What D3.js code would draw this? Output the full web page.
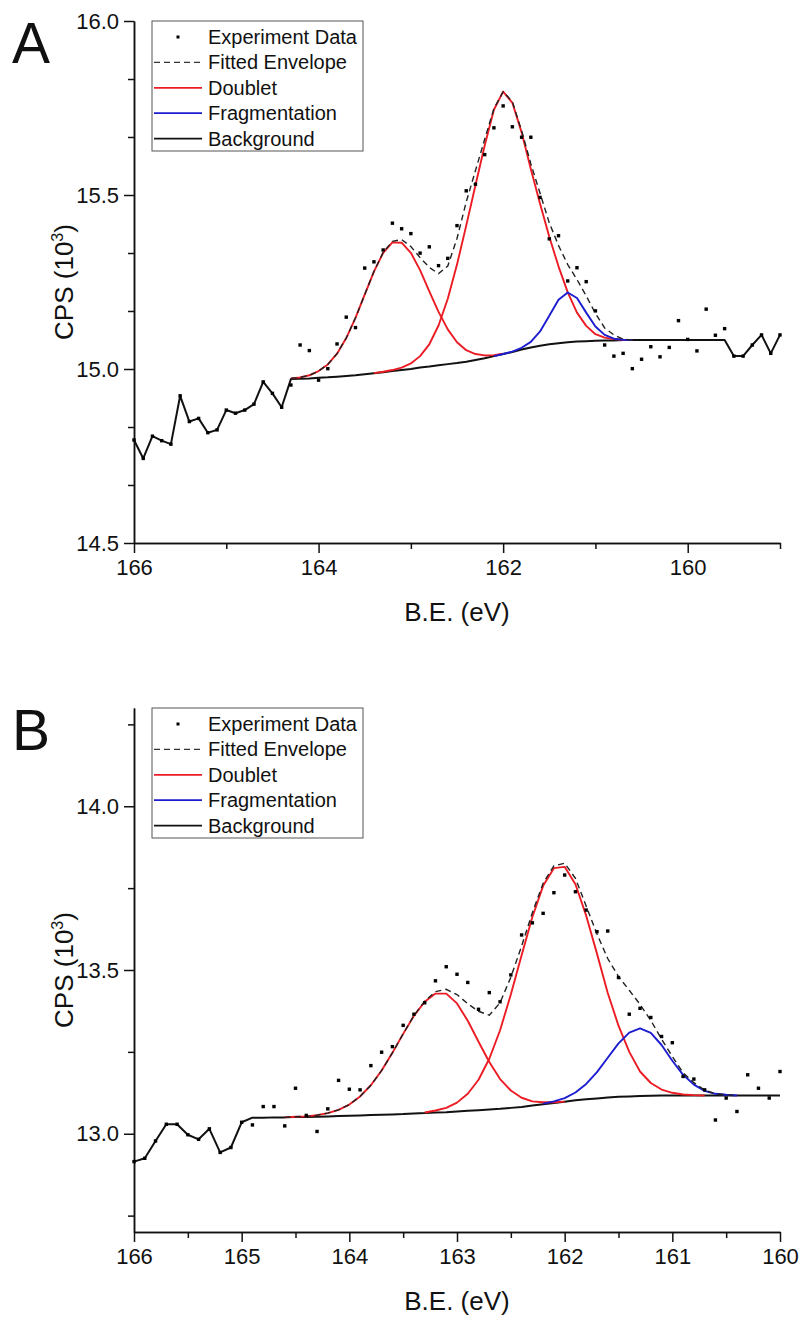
<!DOCTYPE html>
<html>
<head>
<meta charset="utf-8">
<script src="https://cdn.jsdelivr.net/npm/d3@7"></script>
<style>
  body { margin: 0; background: #fff; }
  text { font-family: "Liberation Sans", Arial, sans-serif; fill: #111; }
</style>
</head>
<body>
<svg id="chart" width="804" height="1317"></svg>
<script>
// ---------- data: [binding energy (eV), CPS (10^3)] ----------
// panel A
var expA = [[166.0,14.796],[165.9,14.743],[165.8,14.807],[165.7,14.794],[165.6,14.784],[165.5,14.923],[165.4,14.849],[165.3,14.858],[165.2,14.817],[165.1,14.825],[165.0,14.882],[164.9,14.873],[164.8,14.882],[164.7,14.899],[164.6,14.963],[164.5,14.930],[164.4,14.890],[164.3,14.954],[164.2,15.069],[164.1,15.053],[164.0,14.968],[163.9,15.001],[163.8,15.072],[163.7,15.149],[163.6,15.119],[163.5,15.290],[163.4,15.308],[163.3,15.342],[163.2,15.419],[163.1,15.403],[163.0,15.389],[162.9,15.333],[162.8,15.351],[162.7,15.297],[162.6,15.318],[162.5,15.412],[162.4,15.512],[162.3,15.531],[162.2,15.616],[162.1,15.693],[162.0,15.756],[161.9,15.696],[161.8,15.666],[161.7,15.666],[161.6,15.493],[161.5,15.374],[161.4,15.383],[161.3,15.253],[161.2,15.291],[161.1,15.251],[161.0,15.167],[160.9,15.069],[160.8,15.037],[160.7,15.045],[160.6,15.001],[160.5,15.028],[160.4,15.064],[160.3,15.035],[160.2,15.062],[160.1,15.139],[160.0,15.085],[159.9,15.052],[159.8,15.172],[159.7,15.097],[159.6,15.116],[159.5,15.037],[159.4,15.037],[159.3,15.069],[159.2,15.098],[159.1,15.045],[159.0,15.098]];

var bgA = [[166.0,14.796],[165.9,14.743],[165.8,14.807],[165.7,14.794],[165.6,14.784],[165.5,14.923],[165.4,14.849],[165.3,14.858],[165.2,14.817],[165.1,14.825],[165.0,14.882],[164.9,14.873],[164.8,14.882],[164.7,14.899],[164.6,14.963],[164.5,14.930],[164.4,14.890],[164.3,14.971],[164.2,14.972],[164.1,14.973],[164.0,14.975],[163.9,14.976],[163.8,14.978],[163.7,14.980],[163.6,14.982],[163.5,14.985],[163.4,14.988],[163.3,14.991],[163.2,14.994],[163.1,14.997],[163.0,15.000],[162.9,15.004],[162.8,15.007],[162.7,15.011],[162.6,15.014],[162.5,15.017],[162.4,15.021],[162.3,15.026],[162.2,15.031],[162.1,15.037],[162.0,15.043],[161.9,15.049],[161.8,15.056],[161.7,15.062],[161.6,15.067],[161.5,15.071],[161.4,15.074],[161.3,15.077],[161.2,15.079],[161.1,15.080],[161.0,15.081],[160.9,15.082],[160.8,15.082],[160.7,15.083],[160.6,15.083],[160.5,15.083],[160.4,15.083],[160.3,15.083],[160.2,15.083],[160.1,15.083],[160.0,15.083],[159.9,15.083],[159.8,15.083],[159.7,15.083],[159.6,15.083],[159.5,15.037],[159.4,15.037],[159.3,15.069],[159.2,15.098],[159.1,15.045],[159.0,15.098]];

var envA = [[164.3,14.973],[164.2,14.976],[164.1,14.982],[164.0,14.994],[163.9,15.013],[163.8,15.044],[163.7,15.089],[163.6,15.147],[163.5,15.214],[163.4,15.280],[163.3,15.335],[163.2,15.367],[163.1,15.372],[163.0,15.352],[162.9,15.320],[162.8,15.292],[162.7,15.274],[162.6,15.296],[162.5,15.375],[162.4,15.480],[162.3,15.570],[162.2,15.660],[162.1,15.748],[162.0,15.797],[161.9,15.768],[161.8,15.685],[161.7,15.590],[161.6,15.505],[161.5,15.420],[161.4,15.355],[161.3,15.300],[161.2,15.257],[161.1,15.210],[161.0,15.160],[160.9,15.118],[160.8,15.098],[160.7,15.086],[160.6,15.083]];

var doubletA1 = [[164.3,14.973],[164.2,14.976],[164.1,14.982],[164.0,14.994],[163.9,15.013],[163.8,15.044],[163.7,15.089],[163.6,15.147],[163.5,15.214],[163.4,15.280],[163.3,15.334],[163.2,15.364],[163.1,15.363],[163.0,15.334],[162.9,15.284],[162.8,15.223],[162.7,15.164],[162.6,15.114],[162.5,15.077],[162.4,15.054],[162.3,15.043],[162.2,15.039],[162.1,15.040],[162.0,15.044]];

var doubletA2 = [[163.4,14.988],[163.3,14.992],[163.2,14.997],[163.1,15.004],[163.0,15.016],[162.9,15.037],[162.8,15.071],[162.7,15.125],[162.6,15.202],[162.5,15.300],[162.4,15.412],[162.3,15.528],[162.2,15.642],[162.1,15.745],[162.0,15.797],[161.9,15.765],[161.8,15.680],[161.7,15.575],[161.6,15.475],[161.5,15.380],[161.4,15.295],[161.3,15.220],[161.2,15.162],[161.1,15.124],[161.0,15.100],[160.9,15.090],[160.8,15.086],[160.7,15.084],[160.6,15.083]];

var fragA = [[162.1,15.037],[162.0,15.043],[161.9,15.050],[161.8,15.061],[161.7,15.078],[161.6,15.108],[161.5,15.153],[161.4,15.199],[161.3,15.220],[161.2,15.204],[161.1,15.162],[161.0,15.122],[160.9,15.098],[160.8,15.087],[160.7,15.084],[160.6,15.083]];

// panel B
var expB = [[166.0,12.915],[165.9,12.925],[165.8,12.978],[165.7,13.029],[165.6,13.029],[165.5,12.997],[165.4,12.983],[165.3,13.015],[165.2,12.943],[165.1,12.958],[165.0,13.035],[164.9,13.027],[164.8,13.083],[164.7,13.083],[164.6,13.024],[164.5,13.139],[164.4,13.056],[164.3,13.007],[164.2,13.076],[164.1,13.163],[164.0,13.136],[163.9,13.134],[163.8,13.208],[163.7,13.249],[163.6,13.266],[163.5,13.331],[163.4,13.365],[163.3,13.400],[163.2,13.467],[163.1,13.510],[163.0,13.487],[162.9,13.462],[162.8,13.380],[162.7,13.431],[162.6,13.403],[162.5,13.485],[162.4,13.607],[162.3,13.644],[162.2,13.673],[162.1,13.736],[162.0,13.790],[161.9,13.739],[161.8,13.683],[161.7,13.617],[161.6,13.619],[161.5,13.477],[161.4,13.365],[161.3,13.383],[161.2,13.355],[161.1,13.297],[161.0,13.278],[160.9,13.175],[160.8,13.167],[160.7,13.134],[160.6,13.042],[160.5,13.109],[160.4,13.068],[160.3,13.180],[160.2,13.139],[160.1,13.109],[160.0,13.190]];

var bgB = [[166.0,12.915],[165.9,12.925],[165.8,12.978],[165.7,13.029],[165.6,13.029],[165.5,12.997],[165.4,12.983],[165.3,13.015],[165.2,12.943],[165.1,12.958],[165.0,13.035],[164.9,13.049],[164.8,13.049],[164.7,13.050],[164.6,13.050],[164.5,13.051],[164.4,13.051],[164.3,13.052],[164.2,13.053],[164.1,13.054],[164.0,13.055],[163.9,13.056],[163.8,13.057],[163.7,13.058],[163.6,13.059],[163.5,13.060],[163.4,13.062],[163.3,13.063],[163.2,13.065],[163.1,13.066],[163.0,13.068],[162.9,13.070],[162.8,13.072],[162.7,13.074],[162.6,13.076],[162.5,13.079],[162.4,13.082],[162.3,13.086],[162.2,13.090],[162.1,13.094],[162.0,13.098],[161.9,13.102],[161.8,13.105],[161.7,13.108],[161.6,13.111],[161.5,13.113],[161.4,13.114],[161.3,13.115],[161.2,13.116],[161.1,13.117],[161.0,13.117],[160.9,13.117],[160.8,13.117],[160.7,13.117],[160.6,13.117],[160.5,13.117],[160.4,13.117],[160.3,13.117],[160.2,13.117],[160.1,13.117],[160.0,13.117]];

var envB = [[164.6,13.050],[164.5,13.052],[164.4,13.053],[164.3,13.057],[164.2,13.063],[164.1,13.073],[164.0,13.089],[163.9,13.114],[163.8,13.148],[163.7,13.193],[163.6,13.247],[163.5,13.305],[163.4,13.361],[163.3,13.405],[163.2,13.434],[163.1,13.441],[163.0,13.425],[162.9,13.397],[162.8,13.374],[162.7,13.362],[162.6,13.400],[162.5,13.478],[162.4,13.573],[162.3,13.675],[162.2,13.765],[162.1,13.818],[162.0,13.826],[161.9,13.780],[161.8,13.695],[161.7,13.610],[161.6,13.535],[161.5,13.480],[161.4,13.438],[161.3,13.395],[161.2,13.346],[161.1,13.289],[161.0,13.236],[160.9,13.186],[160.8,13.156],[160.7,13.133],[160.6,13.122],[160.5,13.119],[160.4,13.117]];

var doubletB1 = [[164.6,13.050],[164.5,13.052],[164.4,13.053],[164.3,13.057],[164.2,13.063],[164.1,13.073],[164.0,13.089],[163.9,13.114],[163.8,13.148],[163.7,13.193],[163.6,13.247],[163.5,13.305],[163.4,13.360],[163.3,13.403],[163.2,13.428],[163.1,13.428],[163.0,13.398],[162.9,13.345],[162.8,13.281],[162.7,13.219],[162.6,13.167],[162.5,13.132],[162.4,13.110],[162.3,13.099],[162.2,13.096],[162.1,13.096],[162.0,13.098]];

var doubletB2 = [[163.3,13.065],[163.2,13.071],[163.1,13.079],[163.0,13.095],[162.9,13.122],[162.8,13.165],[162.7,13.229],[162.6,13.316],[162.5,13.425],[162.4,13.545],[162.3,13.662],[162.2,13.757],[162.1,13.811],[162.0,13.815],[161.9,13.762],[161.8,13.666],[161.7,13.550],[161.6,13.430],[161.5,13.330],[161.4,13.250],[161.3,13.190],[161.2,13.155],[161.1,13.135],[161.0,13.125],[160.9,13.120],[160.8,13.118],[160.7,13.117]];

var fragB = [[162.2,13.092],[162.1,13.099],[162.0,13.109],[161.9,13.126],[161.8,13.152],[161.7,13.188],[161.6,13.232],[161.5,13.276],[161.4,13.309],[161.3,13.322],[161.2,13.308],[161.1,13.271],[161.0,13.223],[160.9,13.180],[160.8,13.150],[160.7,13.131],[160.6,13.122],[160.5,13.119],[160.4,13.117]];

// ticks
var xTicksA = [166, 164, 162, 160];
var xMinorA = [165, 163, 161, 159];
var yTicksA = [14.5, 15.0, 15.5, 16.0];
var yMinorA = [14.6667, 14.8333, 15.1667, 15.3333, 15.6667, 15.8333];

var xTicksB = [166, 165, 164, 163, 162, 161, 160];
var xMinorB = [165.5, 164.5, 163.5, 162.5, 161.5, 160.5];
var yTicksB = [13.0, 13.5, 14.0];
var yMinorB = [12.75, 13.25, 13.75, 14.25];

var legendLabels = ["Experiment Data", "Fitted Envelope", "Doublet", "Fragmentation", "Background"];

var RED = "#ec1c24", BLUE = "#1d1dd0", BLACK = "#111";

var svg = d3.select("#chart");

function drawPanel(p) {
  var x = d3.scaleLinear().domain(p.xDomain).range([134, 780]);
  var y = d3.scaleLinear().domain(p.yDomain).range([p.bottom, p.top]);
  var g = svg.append("g");

  // minor ticks
  g.append("g")
      .attr("transform", "translate(0," + p.bottom + ")")
      .call(d3.axisBottom(x).tickValues(p.xMinor).tickSize(6).tickSizeOuter(0).tickFormat(""));
  g.append("g")
      .attr("transform", "translate(134,0)")
      .call(d3.axisLeft(y).tickValues(p.yMinor).tickSize(6).tickSizeOuter(0).tickFormat(""));

  // major ticks
  var xa = g.append("g")
      .attr("transform", "translate(0," + p.bottom + ")")
      .call(d3.axisBottom(x).tickValues(p.xTicks).tickSize(10).tickSizeOuter(0).tickPadding(6).tickFormat(d3.format("d")));
  var ya = g.append("g")
      .attr("transform", "translate(134,0)")
      .call(d3.axisLeft(y).tickValues(p.yTicks).tickSize(10).tickSizeOuter(0).tickPadding(5).tickFormat(d3.format(".1f")));

  g.selectAll(".domain, .tick line").attr("stroke", BLACK).attr("stroke-width", 1.5);
  g.selectAll(".tick text").style("font-size", "22px").attr("fill", "#222");

  // axis titles
  g.append("text")
      .attr("x", 457).attr("y", p.bottom + 78)
      .attr("text-anchor", "middle")
      .style("font-size", "26px")
      .text("B.E. (eV)");

  var yt = g.append("text")
      .attr("transform", "translate(73," + ((p.top + p.bottom) / 2) + ") rotate(-90)")
      .attr("text-anchor", "middle")
      .style("font-size", "26px");
  yt.append("tspan").text("CPS (10");
  yt.append("tspan").attr("dy", -10).style("font-size", "16px").text("3");
  yt.append("tspan").attr("dy", 10).text(")");

  // panel letter
  g.append("text")
      .attr("x", 12).attr("y", p.top + 42)
      .style("font-size", "57px")
      .text(p.letter);

  // curves
  var line = d3.line().x(function(d) { return x(d[0]); }).y(function(d) { return y(d[1]); });

  g.append("path").datum(p.bg).attr("d", line)
      .attr("fill", "none").attr("stroke", BLACK).attr("stroke-width", 2).attr("stroke-linejoin", "round");
  p.doublet.forEach(function(s) {
    g.append("path").datum(s).attr("d", line)
        .attr("fill", "none").attr("stroke", RED).attr("stroke-width", 1.9).attr("stroke-linejoin", "round");
  });
  g.append("path").datum(p.frag).attr("d", line)
      .attr("fill", "none").attr("stroke", BLUE).attr("stroke-width", 1.9).attr("stroke-linejoin", "round");
  g.append("path").datum(p.env).attr("d", line)
      .attr("fill", "none").attr("stroke", "#222").attr("stroke-width", 1.4).attr("stroke-dasharray", "6,4");

  g.selectAll("rect.dot")
    .data(p.exp)
    .join("rect")
      .attr("class", "dot")
      .attr("x", function(d) { return x(d[0]) - 1.7; })
      .attr("y", function(d) { return y(d[1]) - 1.7; })
      .attr("width", 3.4).attr("height", 3.4)
      .attr("fill", "#000");

  // legend
  var lg = g.append("g").attr("transform", "translate(152," + p.top + ")");
  lg.append("rect").attr("width", 211).attr("height", 130)
      .attr("fill", "#fff").attr("stroke", "#555").attr("stroke-width", 1);
  var rows = lg.selectAll("g.row").data(legendLabels).join("g")
      .attr("class", "row")
      .attr("transform", function(d, i) { return "translate(0," + (16 + i * 25.4) + ")"; });
  rows.append("text").attr("x", 56).attr("y", 7).style("font-size", "20px").text(function(d) { return d; });
  rows.each(function(d, i) {
    var r = d3.select(this);
    if (i === 0) {
      r.append("rect").attr("x", 24.5).attr("y", -1.5).attr("width", 3).attr("height", 3).attr("fill", "#000");
    } else {
      var col = [null, "#333", RED, BLUE, BLACK][i];
      r.append("line").attr("x1", 2).attr("x2", 50).attr("y1", 0).attr("y2", 0)
          .attr("stroke", col).attr("stroke-width", i === 1 ? 1.4 : 1.8)
          .attr("stroke-dasharray", i === 1 ? "6,4" : null);
    }
  });
}

drawPanel({
  letter: "A", top: 21, bottom: 543,
  xDomain: [166, 159], yDomain: [14.5, 16.0],
  xTicks: xTicksA, xMinor: xMinorA, yTicks: yTicksA, yMinor: yMinorA,
  exp: expA, bg: bgA, env: envA, doublet: [doubletA1, doubletA2], frag: fragA
});

drawPanel({
  letter: "B", top: 708, bottom: 1232,
  xDomain: [166, 160], yDomain: [12.7, 14.3],
  xTicks: xTicksB, xMinor: xMinorB, yTicks: yTicksB, yMinor: yMinorB,
  exp: expB, bg: bgB, env: envB, doublet: [doubletB1, doubletB2], frag: fragB
});
</script>
</body>
</html>
